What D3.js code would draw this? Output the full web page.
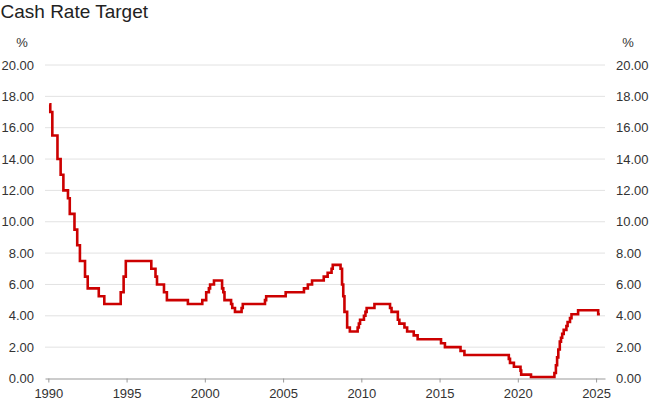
<!DOCTYPE html>
<html>
<head>
<meta charset="utf-8">
<script src="https://cdn.jsdelivr.net/npm/d3@7"></script>
<style>
  html, body { margin: 0; padding: 0; background: #fff; }
  svg { display: block; font-family: "Liberation Sans", Arial, sans-serif; }
</style>
</head>
<body>
<svg id="chart" width="650" height="416"></svg>
<script>
// ---- Data (RBA cash rate target, change dates and levels, %) ----
const changeDates = [
  "1990-01-23","1990-02-15","1990-04-04","1990-08-02","1990-10-15","1990-12-18",
  "1991-04-04","1991-05-16","1991-09-03","1991-11-06","1992-01-08","1992-05-06",
  "1992-07-08","1993-03-23","1993-07-30","1994-08-17","1994-10-24","1994-12-14",
  "1996-07-31","1996-11-06","1996-12-11","1997-05-23","1997-07-30","1998-12-02",
  "1999-11-03","2000-02-02","2000-04-05","2000-05-03","2000-08-02","2001-02-07",
  "2001-03-07","2001-04-04","2001-09-05","2001-10-03","2001-12-05","2002-05-08",
  "2002-06-05","2003-11-05","2003-12-03","2005-03-02","2006-05-03","2006-08-02",
  "2006-11-08","2007-08-08","2007-11-07","2008-02-06","2008-03-05","2008-09-03",
  "2008-10-08","2008-11-05","2008-12-03","2009-02-04","2009-04-08","2009-10-07",
  "2009-11-04","2009-12-02","2010-03-03","2010-04-07","2010-05-05","2010-11-03",
  "2011-11-02","2011-12-07","2012-05-02","2012-06-06","2012-10-03","2012-12-05",
  "2013-05-08","2013-08-07","2015-02-04","2015-05-06","2016-05-04","2016-08-03",
  "2019-06-05","2019-07-03","2019-10-02","2020-03-04","2020-03-20","2020-11-04",
  "2022-05-04","2022-06-08","2022-07-06","2022-08-03","2022-09-07","2022-10-05",
  "2022-11-02","2022-12-07","2023-02-08","2023-03-08","2023-05-03","2023-06-07",
  "2023-11-08","2025-02-19","2025-03-31"
];
const rates = [
  17.50,17.00,15.50,14.00,13.00,12.00,
  11.50,10.50,9.50,8.50,7.50,6.50,
  5.75,5.25,4.75,5.50,6.50,7.50,
  7.00,6.50,6.00,5.50,5.00,4.75,
  5.00,5.50,5.75,6.00,6.25,5.75,
  5.50,5.00,4.75,4.50,4.25,4.50,
  4.75,5.00,5.25,5.50,5.75,6.00,
  6.25,6.50,6.75,7.00,7.25,7.00,
  6.00,5.25,4.25,3.25,3.00,3.25,
  3.50,3.75,4.00,4.25,4.50,4.75,
  4.50,4.25,3.75,3.50,3.25,3.00,
  2.75,2.50,2.25,2.00,1.75,1.50,
  1.25,1.00,0.75,0.50,0.25,0.10,
  0.35,0.85,1.35,1.85,2.35,2.60,
  2.85,3.10,3.35,3.60,3.85,4.10,
  4.35,4.10,4.10
];
const yTicks = [0,2,4,6,8,10,12,14,16,18,20];
const xTickYears = [1990,1995,2000,2005,2010,2015,2020,2025];
const titleText = "Cash Rate Target";
const unitLabel = "%";

// ---- Build ----
const parse = d3.timeParse("%Y-%m-%d");
const series = changeDates.map((d, i) => ({ date: parse(d), value: rates[i] }));

const svg = d3.select("#chart");
const mLeft = 45, mRight = 605, mTop = 65, mBottom = 378.5;

const x = d3.scaleTime()
  .domain([new Date(1989, 9, 15), new Date(2025, 6, 28)])
  .range([mLeft, mRight]);
const y = d3.scaleLinear().domain([0, 20]).range([mBottom, mTop]);

const textColor = "#333";
const fontFam = "Liberation Sans, Arial, sans-serif";

// title
svg.append("text")
  .attr("x", 0.5).attr("y", 17.5)
  .attr("font-size", 19).attr("fill", "#222")
  .text(titleText);

// unit labels
svg.append("text").attr("x", 22).attr("y", 47)
  .attr("text-anchor", "middle").attr("font-size", 13).attr("fill", textColor)
  .text(unitLabel);
svg.append("text").attr("x", 628).attr("y", 47)
  .attr("text-anchor", "middle").attr("font-size", 13).attr("fill", textColor)
  .text(unitLabel);

// gridlines
svg.append("g").selectAll("line")
  .data(yTicks.filter(d => d !== 0))
  .join("line")
  .attr("x1", mLeft).attr("x2", mRight)
  .attr("y1", d => y(d)).attr("y2", d => y(d))
  .attr("stroke", "#e2e2e2").attr("stroke-width", 1);

// left axis
const fmt = d3.format(".2f");
const gl = svg.append("g").attr("transform", `translate(${mLeft},0)`)
  .call(d3.axisLeft(y).tickValues(yTicks).tickFormat(fmt).tickSize(0).tickPadding(11));
gl.select(".domain").remove();
gl.selectAll("text").attr("font-size", 13).attr("fill", textColor).attr("font-family", fontFam);

// right axis
const gr = svg.append("g").attr("transform", `translate(${mRight},0)`)
  .call(d3.axisRight(y).tickValues(yTicks).tickFormat(fmt).tickSize(0).tickPadding(11));
gr.select(".domain").remove();
gr.selectAll("text").attr("font-size", 13).attr("fill", textColor).attr("font-family", fontFam);

// bottom axis
const gb = svg.append("g").attr("transform", `translate(0,${mBottom})`)
  .call(d3.axisBottom(x)
    .tickValues(xTickYears.map(yv => new Date(yv, 0, 1)))
    .tickFormat(d3.timeFormat("%Y"))
    .tickSizeInner(4).tickSizeOuter(0).tickPadding(6));
gb.select(".domain").attr("stroke", "#999").attr("stroke-width", 1);
gb.selectAll(".tick line").attr("stroke", "#999");
gb.selectAll("text").attr("font-size", 13).attr("fill", textColor).attr("font-family", fontFam);

// line
const line = d3.line()
  .x(d => x(d.date))
  .y(d => y(d.value))
  .curve(d3.curveStepAfter);

svg.append("path")
  .datum(series)
  .attr("fill", "none")
  .attr("stroke", "#cc0000")
  .attr("stroke-width", 2.6)
  .attr("stroke-linejoin", "miter")
  .attr("d", line);
</script>
</body>
</html>
